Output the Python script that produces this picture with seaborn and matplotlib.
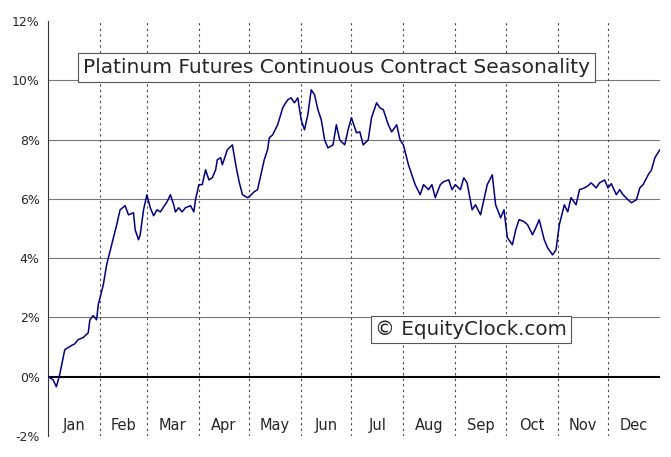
import matplotlib
matplotlib.use("Agg")
import matplotlib.pyplot as plt
import seaborn as sns
import pandas as pd

days = [0,3,5,7,10,12,14,16,18,21,24,25,27,29,30,33,35,38,41,43,46,48,51,52,54,55,57,59,61,63,65,67,69,71,73,75,76,78,80,82,85,87,88,90,92,94,96,98,100,101,103,104,107,110,112,114,116,119,120,123,125,127,129,131,132,134,137,140,141,143,145,147,149,151,153,155,157,159,161,163,165,167,170,172,174,177,179,181,184,186,188,191,193,196,198,200,203,205,208,210,212,215,217,219,222,224,227,229,231,234,236,239,241,243,246,248,250,253,255,258,260,262,265,267,270,272,274,277,279,281,284,286,289,291,293,296,298,301,303,305,308,310,312,315,317,320,322,324,327,329,332,334,336,339,341,343,346,348,351,353,355,358,360,362,365]
values = [0.00,-0.10,-0.34,0.07,0.91,0.98,1.05,1.11,1.25,1.32,1.48,1.92,2.06,1.92,2.43,3.10,3.78,4.45,5.13,5.63,5.77,5.46,5.53,4.96,4.62,4.79,5.63,6.14,5.70,5.43,5.63,5.56,5.73,5.90,6.14,5.80,5.56,5.70,5.56,5.70,5.77,5.56,5.97,6.48,6.48,6.98,6.64,6.71,6.98,7.32,7.39,7.15,7.66,7.82,7.15,6.58,6.14,6.04,6.07,6.24,6.31,6.81,7.32,7.66,8.06,8.16,8.50,9.07,9.17,9.34,9.41,9.24,9.41,8.67,8.33,8.84,9.68,9.51,9.01,8.67,7.99,7.72,7.82,8.50,7.99,7.82,8.33,8.74,8.23,8.26,7.82,7.99,8.74,9.24,9.07,9.01,8.50,8.26,8.50,7.99,7.82,7.15,6.81,6.48,6.14,6.48,6.31,6.48,6.04,6.48,6.58,6.64,6.31,6.48,6.31,6.71,6.54,5.63,5.80,5.46,5.97,6.48,6.81,5.80,5.36,5.63,4.69,4.45,4.96,5.30,5.23,5.13,4.79,5.03,5.30,4.62,4.35,4.11,4.28,5.13,5.80,5.56,6.04,5.80,6.31,6.37,6.44,6.54,6.37,6.54,6.64,6.37,6.51,6.14,6.31,6.14,5.97,5.87,5.97,6.37,6.48,6.81,6.98,7.39,7.66]
months = ["Jan","Feb","Mar","Apr","May","Jun","Jul","Aug","Sep","Oct","Nov","Dec"]
month_starts = [0,31,59,90,120,151,181,212,243,273,304,334,365]
yticks = [-2,0,2,4,6,8,10,12]

sns.set_style("white")
plt.rcParams['font.family'] = ['Verdana', 'DejaVu Sans']
fig = plt.figure(figsize=(6.71,4.57), dpi=100)
ax = fig.add_axes([0.0715,0.046,0.912,0.908])
df = pd.DataFrame({"day":days,"val":values})
for y in [2,4,6,8,10]:
    ax.axhline(y, color="#777777", lw=0.8, zorder=1)
ax.axhline(0, color="black", lw=1.5, zorder=1)
for d in month_starts[1:-1]:
    ax.axvline(d, color="#444444", lw=0.8, ls=(0,(2,3)), zorder=1)
sns.lineplot(data=df, x="day", y="val", ax=ax, color="#000080", lw=1.1, zorder=3)
ax.set_xlim(0,365)
ax.set_ylim(-2,12)
ax.set_yticks(yticks)
ax.set_yticklabels([f"{t}%" for t in yticks], fontsize=9)
ax.set_xticks(month_starts[1:-1])
ax.set_xticklabels([])
ax.tick_params(axis='x', length=4, direction='in', color='#444444')
ax.tick_params(axis='y', length=4, direction='out', pad=2)
for i,m in enumerate(months):
    ax.text((month_starts[i]+month_starts[i+1])/2, -1.65, m, ha="center", va="center", fontsize=10.5)
ax.set_xlabel(""); ax.set_ylabel("")
for s in ["top","right"]:
    ax.spines[s].set_visible(False)
ax.spines["left"].set_color("#333333"); ax.spines["bottom"].set_visible(False)
ax.text(0.057, 0.888, "Platinum Futures Continuous Contract Seasonality", transform=ax.transAxes,
        fontsize=14.5, va="center", ha="left",
        bbox=dict(boxstyle="square,pad=0.25", fc="white", ec="#555555", lw=0.8))
ax.text(0.535, 0.256, "© EquityClock.com", transform=ax.transAxes, fontsize=14.3, va="center", ha="left",
        bbox=dict(boxstyle="square,pad=0.2", fc="white", ec="#555555", lw=0.8), zorder=5)
fig.savefig("out.png", dpi=100)
